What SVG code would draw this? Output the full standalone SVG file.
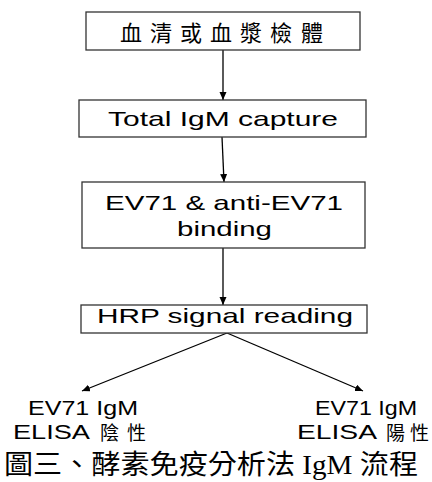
<svg xmlns="http://www.w3.org/2000/svg" width="432" height="482" viewBox="0 0 432 482">
<style>
.box{fill:#fff;stroke:#333;stroke-width:1.3}
.t{font-family:"Liberation Sans",Arial,sans-serif;font-size:21px;fill:#000}
.cjk{font-family:"Noto Sans CJK TC","Noto Sans CJK SC",serif;fill:#000}
.ln{stroke:#000;stroke-width:1.3;fill:none;marker-end:url(#ah)}
</style>
<defs>
<marker id="ah" markerUnits="userSpaceOnUse" markerWidth="9" markerHeight="8" refX="8" refY="3.5" orient="auto">
<path d="M0,0 L8,3.5 L0,7 z" fill="#000"/>
</marker>
</defs>
<rect width="432" height="482" fill="#fff"/>
<g id="connectors">
<line class="ln" x1="223" y1="50" x2="223" y2="100"/>
<line class="ln" x1="222" y1="137" x2="224" y2="182"/>
<line class="ln" x1="223" y1="248" x2="223" y2="305"/>
<line class="ln" x1="227" y1="333" x2="82" y2="391"/>
<line class="ln" x1="227" y1="333" x2="363" y2="391"/>
</g>
<g id="n1">
<rect class="box" x="86" y="12" width="274" height="38"/>
<text class="cjk" x="120" y="41" font-size="22"><tspan>血</tspan><tspan x="150">清</tspan><tspan x="180">或</tspan><tspan x="210">血</tspan><tspan x="240">漿</tspan><tspan x="270">檢</tspan><tspan x="301">體</tspan></text>
</g>
<g id="n2">
<rect class="box" x="79" y="100" width="287" height="37"/>
<text class="t" x="108" y="126" textLength="230" lengthAdjust="spacingAndGlyphs">Total IgM capture</text>
</g>
<g id="n3">
<rect class="box" x="82" y="182" width="283" height="66"/>
<text class="t" x="105" y="210" textLength="238" lengthAdjust="spacingAndGlyphs">EV71 &amp; anti-EV71</text>
<text class="t" x="177" y="236" textLength="95" lengthAdjust="spacingAndGlyphs">binding</text>
</g>
<g id="n4">
<rect class="box" x="81" y="305" width="286" height="28"/>
<text class="t" x="97" y="323" textLength="256" lengthAdjust="spacingAndGlyphs">HRP signal reading</text>
</g>
<g id="n5">
<text class="t" x="28" y="415" textLength="110" lengthAdjust="spacingAndGlyphs">EV71 IgM</text>
<text class="t" x="13" y="439" textLength="77" lengthAdjust="spacingAndGlyphs">ELISA</text>
<text class="cjk" x="100" y="440" font-size="19"><tspan>陰</tspan><tspan x="127">性</tspan></text>
</g>
<g id="n6">
<text class="t" x="315" y="415" textLength="102" lengthAdjust="spacingAndGlyphs">EV71 IgM</text>
<text class="t" x="297" y="439" textLength="80" lengthAdjust="spacingAndGlyphs">ELISA</text>
<text class="cjk" x="386" y="440" font-size="19"><tspan>陽</tspan><tspan x="410">性</tspan></text>
</g>
<g id="caption">
<text class="cjk" x="4" y="474" font-size="27" textLength="414" lengthAdjust="spacingAndGlyphs">圖三、酵素免疫分析法<tspan font-family="Liberation Serif,serif"> IgM </tspan>流程</text>
</g>
</svg>
